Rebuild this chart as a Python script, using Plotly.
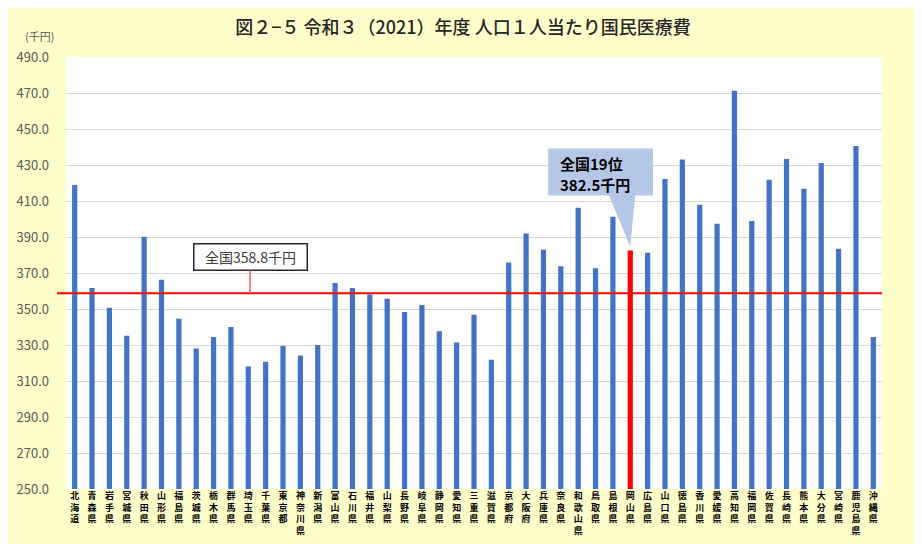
import plotly.graph_objects as go

prefectures = ["北海道", "青森県", "岩手県", "宮城県", "秋田県", "山形県", "福島県", "茨城県",
               "栃木県", "群馬県", "埼玉県", "千葉県", "東京都", "神奈川県", "新潟県", "富山県",
               "石川県", "福井県", "山梨県", "長野県", "岐阜県", "静岡県", "愛知県", "三重県",
               "滋賀県", "京都府", "大阪府", "兵庫県", "奈良県", "和歌山県", "鳥取県", "島根県",
               "岡山県", "広島県", "山口県", "徳島県", "香川県", "愛媛県", "高知県", "福岡県",
               "佐賀県", "長崎県", "熊本県", "大分県", "宮崎県", "鹿児島県", "沖縄県"]
values = [418.9, 361.7, 350.7, 335.2, 390.2, 366.3, 344.6, 328.1,
          334.4, 340.0, 318.1, 320.7, 329.4, 324.2, 330.0, 364.4,
          361.7, 358.1, 355.7, 348.3, 352.2, 337.6, 331.4, 346.8,
          321.8, 375.9, 392.0, 382.9, 373.7, 406.3, 372.6, 401.3,
          382.5, 381.3, 422.2, 433.1, 407.9, 397.4, 471.3, 398.9,
          421.8, 433.3, 416.8, 431.1, 383.5, 440.6, 334.4]
national_avg = 358.8
highlight = "岡山県"
y_ticks = [250, 270, 290, 310, 330, 350, 370, 390, 410, 430, 450, 470, 490]

x_idx = list(range(len(prefectures)))
tick_text = ["<br>".join(list(p)) for p in prefectures]
colors = ["#FF0000" if p == highlight else "#4472C4" for p in prefectures]
hi = prefectures.index(highlight)
hv = values[hi]

JP = "Noto Sans CJK JP"
W, H = 914, 536  # page body adds an 8px offset

fig = go.Figure()
fig.add_trace(go.Bar(x=x_idx, y=values, marker=dict(color=colors, line=dict(width=0)),
                     width=0.3, showlegend=False))

shapes = [
    # yellow background panel
    dict(type="rect", xref="paper", yref="paper", x0=-0.0735, x1=1.0466, y0=-0.13, y1=1.114,
         fillcolor="#FFFFCC", line=dict(width=0), layer="below"),
    # white plot area
    dict(type="rect", xref="paper", yref="paper", x0=0, x1=1, y0=0, y1=1,
         fillcolor="#FFFFFF", line=dict(width=0), layer="below"),
    # national average line
    dict(type="line", xref="paper", yref="y", x0=-0.011, x1=1, y0=national_avg, y1=national_avg,
         line=dict(color="#FF0000", width=2)),
    # callout box with pointer
    dict(type="path", xref="x", yref="y",
         path=(f"M {hi-4.73},{hv+56.6} L {hi+1.31},{hv+56.6} L {hi+1.31},{hv+30.5} "
               f"L {hi+0.28},{hv+30.5} L {hi},{hv+2.1} L {hi-1.22},{hv+30.5} "
               f"L {hi-4.73},{hv+30.5} Z"),
         fillcolor="#B4C7E7", line=dict(width=0), layer="above"),
]

annotations = [
    dict(x=10.1, y=national_avg, xref="x", yref="y", text="全国358.8千円",
         showarrow=True, arrowhead=0, arrowcolor="#FF5B5B", arrowwidth=1.5, ax=0, ay=-36,
         bgcolor="#FFFFFF", bordercolor="#262626", borderwidth=1.5, borderpad=2,
         width=108, height=21, font=dict(family=JP, size=14, color="#404040")),
    dict(x=hi - 4.16, y=hv + 48.2, xref="x", yref="y", text="<b>全国19位</b>",
         showarrow=False, xanchor="left", yanchor="middle",
         font=dict(family=JP, size=15, color="#000000")),
    dict(x=hi - 4.16, y=hv + 36.6, xref="x", yref="y", text="<b>382.5千円</b>",
         showarrow=False, xanchor="left", yanchor="middle",
         font=dict(family=JP, size=15, color="#000000")),
    dict(x=-0.033, y=1.0486, xref="paper", yref="paper", text="(千円)", showarrow=False,
         xanchor="center", yanchor="middle", font=dict(family=JP, size=11, color="#595959")),
]

fig.update_layout(
    width=W, height=H,
    margin=dict(l=58, r=40, t=49, b=55, autoexpand=False),
    paper_bgcolor="#FFFFFF", plot_bgcolor="rgba(0,0,0,0)",
    title=dict(text="図２−５ 令和３（2021）年度 人口１人当たり国民医療費",
               x=0.4865, xref="paper", xanchor="center",
               y=1 - 20 / H, yref="container", yanchor="middle",
               font=dict(family=JP, size=18, color="#262626", weight=500)),
    shapes=shapes, annotations=annotations,
    bargap=0.7,
)
fig.update_xaxes(range=[-0.5, len(prefectures) - 0.5], tickmode="array", tickvals=x_idx,
                 ticktext=tick_text, tickangle=0, showgrid=False, zeroline=False, showline=False,
                 ticks="", automargin=False,
                 tickfont=dict(family=JP, size=9, color="#000000", weight="bold"),
                 fixedrange=True)
fig.update_yaxes(range=[250, 490], tickmode="array", tickvals=y_ticks, tickformat=".1f",
                 showgrid=True, gridcolor="#D9D9D9", gridwidth=1, zeroline=False, showline=False,
                 ticks="", ticklabelstandoff=16, automargin=False,
                 tickfont=dict(family=JP, size=13, color="#595959"), fixedrange=True)

fig.write_html("out.html")
